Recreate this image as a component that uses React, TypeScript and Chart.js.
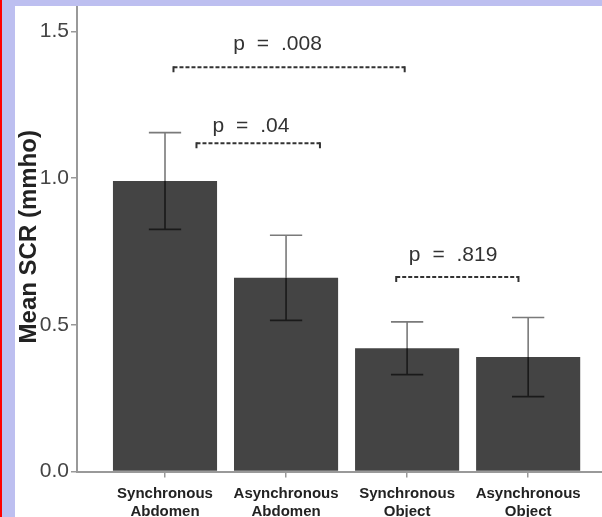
import React, { useEffect, useRef } from 'react';
import { Chart, registerables } from 'chart.js';

Chart.register(...registerables);

const categories: string[][] = [
  ['Synchronous', 'Abdomen'],
  ['Asynchronous', 'Abdomen'],
  ['Synchronous', 'Object'],
  ['Asynchronous', 'Object'],
];
const meanSCR = [0.99, 0.66, 0.42, 0.39];
const errSCR = [0.165, 0.145, 0.09, 0.135];
const yTickValues = [0, 0.5, 1.0, 1.5];

const pLabels = ['p = .008', 'p = .04', 'p = .819'];
const bracketFrom = [0.07, 0.26, 1.91];
const bracketTo = [1.98, 1.28, 2.92];
const bracketLevel = [1.378, 1.119, 0.663];
const pLabelX = [0.93, 0.71, 2.38];
const pLabelLevel = [1.435, 1.156, 0.718];

const FONT = "'Liberation Sans', Arial, Helvetica, sans-serif";

const errorBarPlugin = {
  id: 'errorBars',
  afterDatasetsDraw(chart: any) {
    const ctx = chart.ctx;
    const ys = chart.scales.y;
    const meta = chart.getDatasetMeta(0);
    ctx.save();
    meta.data.forEach((bar: any, i: number) => {
      const x = bar.x;
      const yMean = ys.getPixelForValue(meanSCR[i]);
      const yHi = ys.getPixelForValue(meanSCR[i] + errSCR[i]);
      const yLo = ys.getPixelForValue(meanSCR[i] - errSCR[i]);
      const half = (bar.width * 0.31) / 2;
      ctx.strokeStyle = '#7a7a7a';
      ctx.lineWidth = 1.6;
      ctx.beginPath();
      ctx.moveTo(x, yMean);
      ctx.lineTo(x, yHi);
      ctx.moveTo(x - half, yHi);
      ctx.lineTo(x + half, yHi);
      ctx.stroke();
      ctx.strokeStyle = '#1a1a1a';
      ctx.beginPath();
      ctx.moveTo(x, yMean);
      ctx.lineTo(x, yLo);
      ctx.moveTo(x - half, yLo);
      ctx.lineTo(x + half, yLo);
      ctx.stroke();
    });
    ctx.restore();
  },
};

const bracketPlugin = {
  id: 'brackets',
  afterDatasetsDraw(chart: any) {
    const ctx = chart.ctx;
    const xs = chart.scales.x;
    const ys = chart.scales.y;
    ctx.save();
    pLabels.forEach((label, i) => {
      const x1 = xs.getPixelForValue(bracketFrom[i]);
      const x2 = xs.getPixelForValue(bracketTo[i]);
      const y = ys.getPixelForValue(bracketLevel[i]);
      ctx.strokeStyle = '#333333';
      ctx.lineWidth = 2;
      ctx.setLineDash([4, 2]);
      ctx.beginPath();
      ctx.moveTo(x1, y);
      ctx.lineTo(x2, y);
      ctx.stroke();
      ctx.setLineDash([]);
      ctx.beginPath();
      ctx.moveTo(x1, y - 1);
      ctx.lineTo(x1, y + 5);
      ctx.moveTo(x2, y - 1);
      ctx.lineTo(x2, y + 5);
      ctx.stroke();
      ctx.fillStyle = '#333333';
      ctx.font = `21px ${FONT}`;
      ctx.textAlign = 'center';
      ctx.textBaseline = 'alphabetic';
      try {
        (ctx as any).wordSpacing = '6px';
      } catch (e) {
        /* ignore */
      }
      ctx.fillText(label, xs.getPixelForValue(pLabelX[i]), ys.getPixelForValue(pLabelLevel[i]));
    });
    ctx.restore();
  },
};

export default function App() {
  const ref = useRef<HTMLCanvasElement | null>(null);

  useEffect(() => {
    if (!ref.current) return;
    const chart = new Chart(ref.current, {
      type: 'bar',
      data: {
        datasets: [
          {
            data: meanSCR.map((v, i) => ({ x: i, y: v })),
            backgroundColor: '#444444',
            borderWidth: 0,
            barPercentage: 0.86,
            categoryPercentage: 1,
          },
        ],
      },
      options: {
        responsive: false,
        animation: false,
        layout: { padding: 0 },
        plugins: { legend: { display: false }, tooltip: { enabled: false } },
        scales: {
          x: {
            type: 'linear',
            offset: false,
            min: -0.727,
            max: 3.61,
            afterBuildTicks: (s: any) => {
              s.ticks = categories.map((_, i) => ({ value: i }));
            },
            ticks: {
              callback: (v: any) => categories[Number(v)] ?? '',
              font: { family: FONT, size: 15, weight: 'bold', lineHeight: 1.15 },
              color: '#222222',
              padding: 8,
              maxRotation: 0,
              autoSkip: false,
            },
            grid: { offset: false, drawOnChartArea: false, drawTicks: true, tickLength: 6, color: '#999999', lineWidth: 1.5 },
            border: { color: '#999999', width: 2 },
          },
          y: {
            min: 0,
            max: 1.6,
            afterBuildTicks: (s: any) => {
              s.ticks = yTickValues.map((v) => ({ value: v }));
            },
            afterFit: (s: any) => {
              s.width = 62;
              s.paddingTop = 0;
              s.paddingBottom = 0;
            },
            ticks: {
              callback: (v: any) => Number(v).toFixed(1),
              font: { family: FONT, size: 21 },
              color: '#444444',
              padding: 2,
            },
            grid: { drawOnChartArea: false, drawTicks: true, tickLength: 6, color: '#999999', lineWidth: 1.5 },
            border: { color: '#999999', width: 2 },
            title: {
              display: true,
              text: 'Mean SCR (mmho)',
              font: { family: FONT, size: 24, weight: 'bold' },
              color: '#222222',
              padding: 0,
            },
          },
        },
      } as any,
      plugins: [errorBarPlugin, bracketPlugin],
    });
    return () => chart.destroy();
  }, []);

  return (
    <div
      style={{
        position: 'fixed',
        left: 0,
        top: 0,
        width: 602,
        height: 517,
        overflow: 'hidden',
        background: '#ffffff',
      }}
    >
      <canvas
        ref={ref}
        width={587}
        height={526}
        style={{ position: 'absolute', left: 15, top: 2, width: 587, height: 526 }}
      />
      <div style={{ position: 'absolute', left: 0, top: 0, width: 602, height: 6, background: '#bdbff0', zIndex: 2 }} />
      <div style={{ position: 'absolute', left: 0, top: 0, width: 15, height: 517, background: '#bdbff0', zIndex: 2 }} />
      <div style={{ position: 'absolute', left: 0, top: 0, width: 2, height: 517, background: '#ff0000', zIndex: 3 }} />
    </div>
  );
}
